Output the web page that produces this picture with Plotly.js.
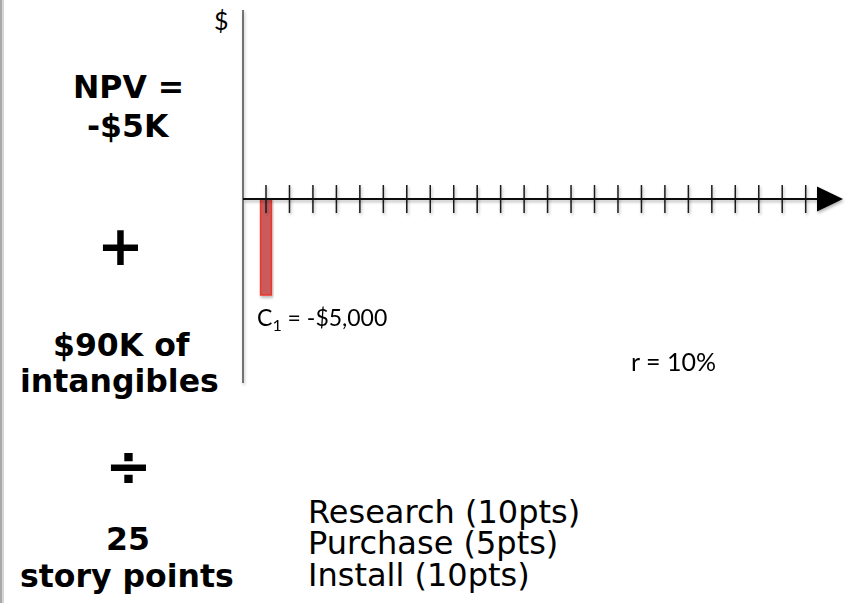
<!DOCTYPE html>
<html>
<head>
<meta charset="utf-8">
<script src="https://cdn.plot.ly/plotly-3.0.1.min.js"></script>
<style>
  html, body { margin: 0; padding: 0; background: #ffffff; }
  #chart { width: 845px; height: 603px; }
</style>
</head>
<body>
<div id="chart"></div>
<script>
// Cash-flow timeline: one outflow in period 1, then an empty run of periods
const periods = [0, 1, 2, 3, 4, 5, 6, 7, 8, 9, 10, 11, 12, 13, 14, 15, 16, 17, 18, 19, 20, 21, 22, 23];
const flowPeriods = [0];
const flowValues = [-5000];
const flowLabels = ['C<sub>1</sub> = -$5,000'];
const rateLabel = 'r = 10%';

// Left-hand summary and the story-point breakdown
const summaryLines = ['NPV =', '-$5K', '+', '$90K of', 'intangibles', '÷', '25', 'story points'];
const storyItems = ['Research (10pts)', 'Purchase (5pts)', 'Install (10pts)'];

const W = 845, H = 603;
const px = x => x / W;
const py = y => 1 - y / H;

// data -> pixel scale of the timeline
const xPerPx = 1 / 23.465;          // periods per pixel
const yPerPx = 5000 / 96;           // dollars per pixel
const originX = 266, originY = 199;
const xRange = [-originX * xPerPx, (W - originX) * xPerPx];
const yRange = [-(H - originY) * yPerPx, originY * yPerPx];

const axisX = (243 - originX) * xPerPx;   // where the vertical $ axis sits
const axisTop = (originY - 10) * yPerPx;
const axisBottom = -(383 - originY) * yPerPx;
const arrowStart = (817 - originX) * xPerPx;

const traces = [
  {
    type: 'bar',
    x: flowPeriods,
    y: flowValues,
    width: 0.46,
    marker: { color: 'rgba(200,75,75,0.88)', line: { color: '#e8382f', width: 1.5 } },
    hoverinfo: 'skip'
  },
  {
    type: 'scatter',
    mode: 'markers',
    x: periods,
    y: periods.map(() => 0),
    marker: { symbol: 'line-ns', size: 20, line: { color: '#1a1a1a', width: 1.5 } },
    hoverinfo: 'skip'
  }
];

const shapes = [
  // window edge strip on the left
  { type: 'rect', xref: 'paper', yref: 'paper', x0: px(0), x1: px(2), y0: 0, y1: 1,
    fillcolor: '#a9a9a9', line: { width: 0 }, layer: 'below' },
  { type: 'rect', xref: 'paper', yref: 'paper', x0: px(2), x1: px(4), y0: 0, y1: 1,
    fillcolor: '#d6d6d6', line: { width: 0 }, layer: 'below' },
  // vertical $ axis
  { type: 'line', xref: 'x', yref: 'y', x0: axisX, x1: axisX, y0: axisTop, y1: axisBottom,
    line: { color: '#4a4a4a', width: 1.5 } },
  // time axis
  { type: 'line', xref: 'x', yref: 'y', x0: axisX, x1: arrowStart, y0: 0, y1: 0,
    line: { color: '#111111', width: 2 } },
  // arrow head
  { type: 'path', xref: 'x', yref: 'y', xsizemode: 'pixel', ysizemode: 'pixel',
    xanchor: arrowStart, yanchor: 0, path: 'M0,12.5 L26,0 L0,-12.5 Z',
    fillcolor: '#000000', line: { width: 0 } }
];

const boldFont = (size) => ({ family: 'DejaVu Sans', size: size, color: '#000000', weight: 'bold' });
const calFont = (size) => ({ family: 'Lato', size: size, color: '#000000' });

const summaryPos = [
  [128.5, 87, 31.5], [128, 126, 31.5], [120, 245, 56],
  [121.7, 344.7, 31.5], [119.5, 381.3, 31.5], [128, 465, 56],
  [128, 539, 31.5], [127, 575.7, 31.5]
];

const annotations = [];
summaryLines.forEach((t, i) => {
  const [cx, cy, fs] = summaryPos[i];
  annotations.push({
    xref: 'paper', yref: 'paper', x: px(cx), y: py(cy), xanchor: 'center', yanchor: 'middle',
    text: '<b>' + t + '</b>', showarrow: false, font: boldFont(fs)
  });
});

const itemY = [511.5, 542.8, 574.8];
storyItems.forEach((t, i) => {
  annotations.push({
    xref: 'paper', yref: 'paper', x: px(306), y: py(itemY[i]), xanchor: 'left', yanchor: 'middle',
    text: t, showarrow: false, font: { family: 'DejaVu Sans', size: 32, color: '#000000' }
  });
});

annotations.push({
  xref: 'paper', yref: 'paper', x: px(222), y: py(20), xanchor: 'center', yanchor: 'middle',
  text: '$', showarrow: false, font: calFont(25)
});
flowPeriods.forEach((p, i) => {
  annotations.push({
    xref: 'x', yref: 'y', x: p, y: flowValues[i], xanchor: 'left', yanchor: 'top',
    xshift: -11, yshift: -6,
    text: flowLabels[i], showarrow: false, font: calFont(23)
  });
});
annotations.push({
  xref: 'paper', yref: 'paper', x: px(629), y: py(361), xanchor: 'left', yanchor: 'middle',
  text: rateLabel, showarrow: false, font: calFont(25)
});

const hiddenAxis = {
  showgrid: false, zeroline: false, showline: false, showticklabels: false,
  ticks: '', fixedrange: true
};

const layout = {
  width: W, height: H,
  margin: { l: 0, r: 0, t: 0, b: 0, pad: 0 },
  paper_bgcolor: '#ffffff', plot_bgcolor: '#ffffff',
  showlegend: false,
  xaxis: Object.assign({ range: xRange }, hiddenAxis),
  yaxis: Object.assign({ range: yRange }, hiddenAxis),
  shapes: shapes,
  annotations: annotations
};

Plotly.newPlot('chart', traces, layout, { staticPlot: true, displayModeBar: false }).then(gd => {
  // soft drop shadow under the axes, ticks and bar
  const ns = 'http://www.w3.org/2000/svg';
  const svg = gd.querySelector('.main-svg');
  let defs = svg.querySelector('defs');
  if (!defs) { defs = document.createElementNS(ns, 'defs'); svg.insertBefore(defs, svg.firstChild); }
  const filter = document.createElementNS(ns, 'filter');
  filter.setAttribute('id', 'soft-shadow');
  filter.setAttribute('x', '-20%'); filter.setAttribute('y', '-20%');
  filter.setAttribute('width', '140%'); filter.setAttribute('height', '140%');
  const drop = document.createElementNS(ns, 'feDropShadow');
  drop.setAttribute('dx', '1'); drop.setAttribute('dy', '2');
  drop.setAttribute('stdDeviation', '1.4');
  drop.setAttribute('flood-color', '#000000');
  drop.setAttribute('flood-opacity', '0.3');
  filter.appendChild(drop);
  defs.appendChild(filter);
  gd.querySelectorAll('.barlayer, .scatterlayer, .layer-above .shapelayer').forEach(g => {
    g.setAttribute('filter', 'url(#soft-shadow)');
  });
});
</script>
</body>
</html>
